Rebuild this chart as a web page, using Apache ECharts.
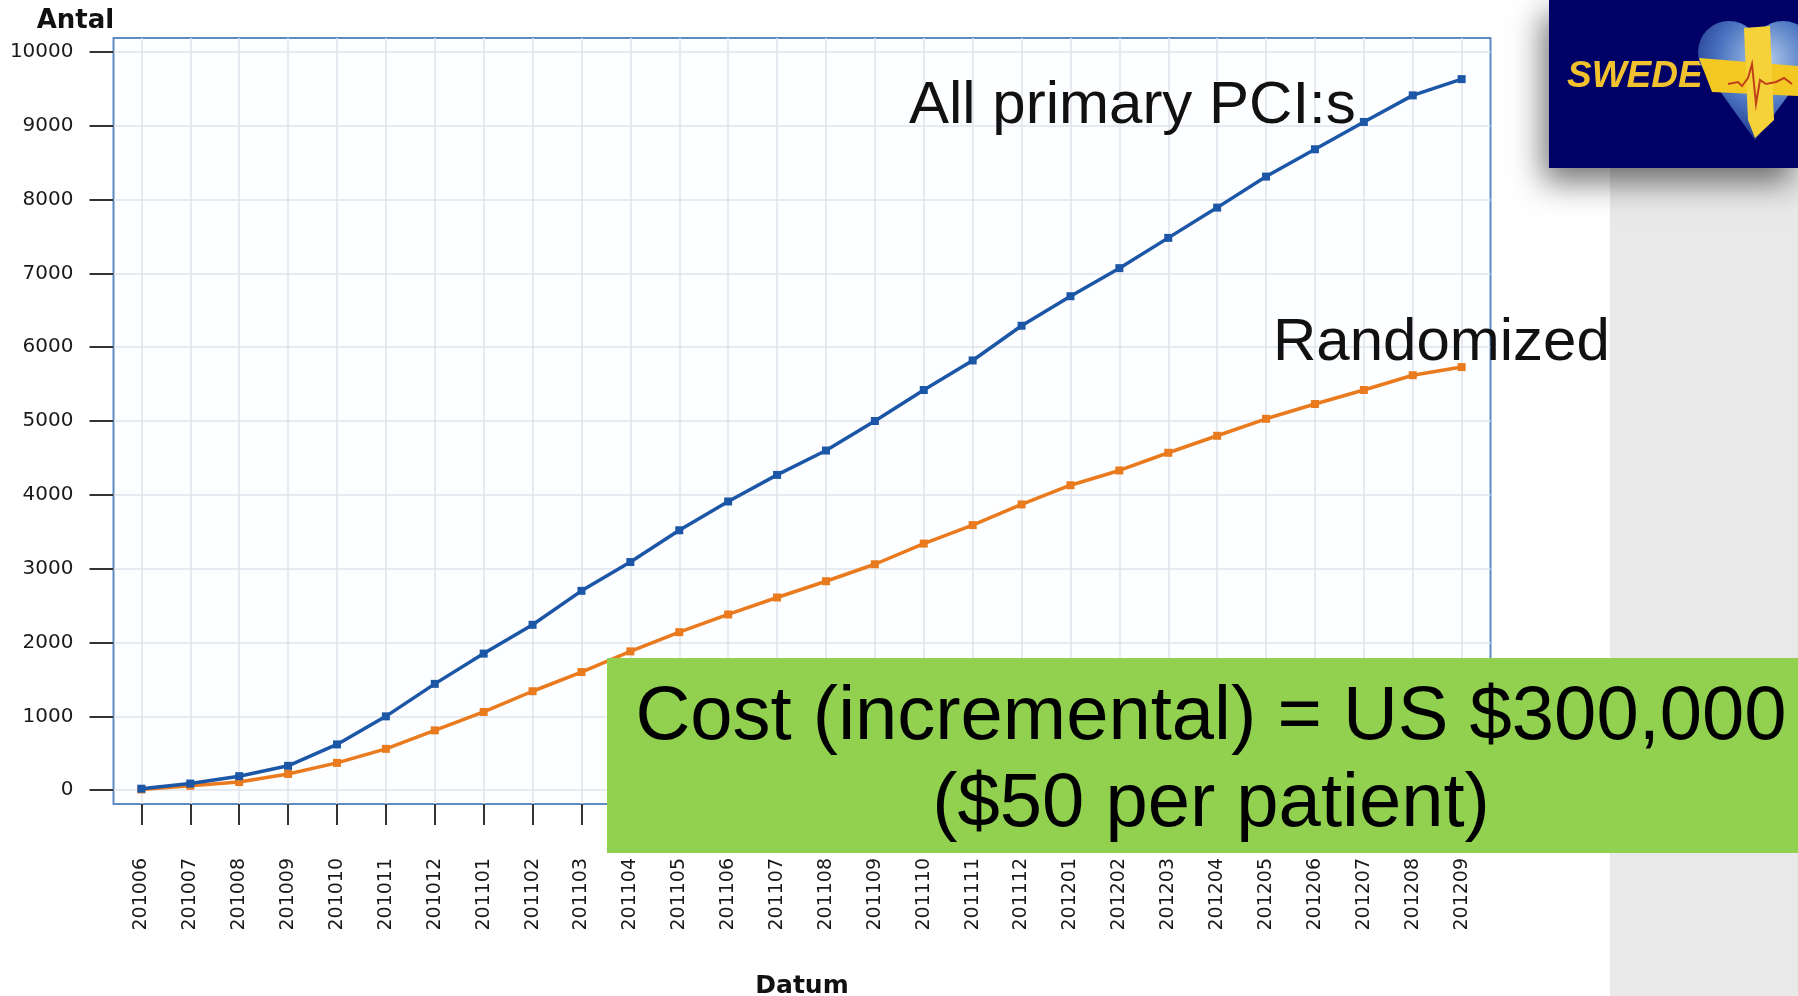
<!DOCTYPE html>
<html>
<head>
<meta charset="utf-8">
<script src="https://cdn.jsdelivr.net/npm/echarts@6/dist/echarts.min.js"></script>
<style>
html,body{margin:0;padding:0;background:#ffffff;}
#chart{width:1798px;height:996px;}
</style>
</head>
<body>
<div id="chart"></div>
<script>
const months = ['201006','201007','201008','201009','201010','201011','201012',
  '201101','201102','201103','201104','201105','201106','201107','201108','201109','201110','201111','201112',
  '201201','201202','201203','201204','201205','201206','201207','201208','201209'];
const allPrimaryPCI = [20, 90, 190, 330, 620, 1000, 1440, 1850, 2240, 2700, 3090, 3520, 3910, 4270,
  4600, 5000, 5420, 5820, 6290, 6690, 7070, 7480, 7890, 8310, 8680, 9050, 9410, 9630];
const randomized = [10, 60, 110, 220, 370, 560, 810, 1060, 1340, 1600, 1880, 2140, 2380, 2610,
  2830, 3060, 3340, 3590, 3870, 4130, 4330, 4570, 4800, 5030, 5230, 5420, 5620, 5730];
const yTicks = [0, 1000, 2000, 3000, 4000, 5000, 6000, 7000, 8000, 9000, 10000];
const seriesNames = ['All primary PCI:s', 'Randomized'];

const idx = months.map((m, i) => i);
const chart = echarts.init(document.getElementById('chart'), null, {renderer: 'canvas'});
const labelFont = 'DejaVu Sans';
const heartFill = {type: 'radial', x: 1765, y: 60, r: 85, global: true,
  colorStops: [{offset: 0, color: '#b4cdee'}, {offset: 0.55, color: '#4a74c0'}, {offset: 1, color: '#1b2f85'}]};

const option = {
  backgroundColor: '#ffffff',
  animation: false,
  grid: {
    left: 113.5, top: 38, width: 1377, height: 766,
    outerBoundsMode: 'none', containLabel: false,
    show: true, backgroundColor: '#fdfeff', borderColor: '#5d8cc4', borderWidth: 2
  },
  xAxis: {
    type: 'value',
    min: -0.57, max: 27.59,
    name: 'Datum', nameLocation: 'middle', nameGap: 170,
    nameTextStyle: {fontFamily: labelFont, fontWeight: 'bold', fontSize: 25, color: '#111'},
    axisLine: {show: false, onZero: false},
    axisTick: {show: true, inside: false, length: 21, customValues: idx, lineStyle: {color: '#333', width: 2}},
    axisLabel: {
      customValues: idx, rotate: 90, margin: 54,
      fontFamily: labelFont, fontSize: 19, color: '#1a1a1a',
      formatter: v => months[Math.round(v)]
    },
    splitLine: {show: true, lineStyle: {color: '#dfe4ed', width: 1.5}}
  },
  yAxis: {
    type: 'value',
    min: -187, max: 10187,
    name: 'Antal', nameLocation: 'end', nameGap: 4,
    nameTextStyle: {fontFamily: labelFont, fontWeight: 'bold', fontSize: 26, color: '#111', padding: [0, 76, 0, 0]},
    axisLine: {show: false, onZero: false},
    axisTick: {show: true, inside: false, length: 24, customValues: yTicks, lineStyle: {color: '#333', width: 2}},
    axisLabel: {customValues: yTicks, margin: 40, fontFamily: labelFont, fontSize: 20, color: '#1a1a1a',
      formatter: v => String(v)},
    splitLine: {show: true, lineStyle: {color: '#dfe4ed', width: 1.5}}
  },
  series: [
    {
      name: seriesNames[0], type: 'line',
      data: allPrimaryPCI.map((v, i) => [i, v]),
      symbol: 'rect', symbolSize: 8,
      lineStyle: {color: '#1b57a6', width: 3.5},
      itemStyle: {color: '#1b57a6'}, z: 3
    },
    {
      name: seriesNames[1], type: 'line',
      data: randomized.map((v, i) => [i, v]),
      symbol: 'rect', symbolSize: 8,
      lineStyle: {color: '#e97a1d', width: 3.5},
      itemStyle: {color: '#e97a1d'}, z: 2
    }
  ],
  graphic: [
    {type: 'rect', shape: {x: 1610, y: 160, width: 188, height: 836}, style: {fill: '#e9e9e9'}, z: -10},
    {type: 'text', x: 909, y: 106, z: 10,
     style: {text: seriesNames[0], font: '60px "Liberation Sans", Arial, sans-serif', fill: '#111', textVerticalAlign: 'middle'}},
    {type: 'text', x: 1273, y: 343, z: 10,
     style: {text: seriesNames[1], font: '60px "Liberation Sans", Arial, sans-serif', fill: '#111', textVerticalAlign: 'middle'}},
    {type: 'rect', shape: {x: 607, y: 658, width: 1191, height: 195}, style: {fill: '#92d050'}, z: 20},
    {type: 'text', x: 1211, y: 756, z: 21,
     style: {text: 'Cost (incremental) = US $300,000', font: '76px "Liberation Sans", Arial, sans-serif', fill: '#000', textAlign: 'center', textVerticalAlign: 'bottom'}},
    {type: 'text', x: 1211, y: 843, z: 21,
     style: {text: '($50 per patient)', font: '76px "Liberation Sans", Arial, sans-serif', fill: '#000', textAlign: 'center', textVerticalAlign: 'bottom'}},
    {type: 'rect', shape: {x: 1549, y: 0, width: 249, height: 168}, z: 30,
     style: {fill: '#000066', shadowBlur: 30, shadowOffsetX: -6, shadowOffsetY: 14, shadowColor: 'rgba(0,0,0,0.55)'}},
    {type: 'text', x: 1567, y: 77, z: 31,
     style: {text: 'SWEDE', font: 'italic bold 37px "Liberation Sans", Arial, sans-serif', fill: '#f2c12e', textVerticalAlign: 'middle'}},
    {type: 'circle', z: 31, shape: {cx: 1729, cy: 52, r: 31}, style: {fill: heartFill}},
    {type: 'circle', z: 31, shape: {cx: 1783, cy: 52, r: 31}, style: {fill: heartFill}},
    {type: 'polygon', z: 31, shape: {points: [[1699, 62], [1755, 140], [1813, 62], [1755, 40]]}, style: {fill: heartFill}},
    {type: 'polygon', z: 32, shape: {points: [[1699, 58], [1798, 66], [1798, 96], [1712, 92]]}, style: {fill: '#f4c823'}},
    {type: 'polygon', z: 32, shape: {points: [[1744, 28], [1770, 26], [1774, 120], [1755, 138], [1748, 120]]}, style: {fill: '#f6d23a'}},
    {type: 'polyline', z: 33, shape: {points: [[1728, 84], [1738, 82], [1742, 86], [1748, 78], [1752, 64], [1756, 104], [1760, 80], [1766, 84], [1776, 82], [1784, 78], [1792, 84]]},
     style: {stroke: '#c0401a', lineWidth: 2, fill: null}}
  ]
};
chart.setOption(option);
</script>
</body>
</html>
